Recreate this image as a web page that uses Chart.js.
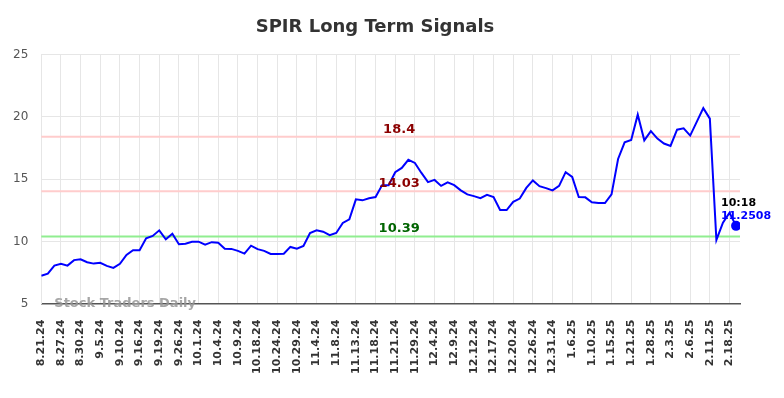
<!DOCTYPE html>
<html>
<head>
<meta charset="utf-8">
<script src="https://cdn.jsdelivr.net/npm/chart.js@4.4.1/dist/chart.umd.min.js"></script>
<style>
	html, body { margin: 0; padding: 0; background: #ffffff; }
	#wrap { width: 784px; height: 398px; }
</style>
</head>
<body>
<div id="wrap"><canvas id="chart" width="784" height="398"></canvas></div>
<script>
// ----------------------------------------------------------------------
const tick_labels = ["8.21.24","8.27.24","8.30.24","9.5.24","9.10.24","9.16.24",
	"9.19.24","9.26.24","10.1.24","10.4.24","10.9.24","10.18.24","10.24.24",
	"10.29.24","11.4.24","11.8.24","11.13.24","11.18.24","11.21.24","11.29.24",
	"12.4.24","12.9.24","12.12.24","12.17.24","12.20.24","12.26.24","12.31.24",
	"1.6.25","1.10.25","1.15.25","1.21.25","1.28.25","2.3.25","2.6.25",
	"2.11.25","2.18.25"]

const prices = [7.24,7.42,8.06,8.2,8.06,8.5,8.57,8.33,8.22,8.28,
	8.04,7.88,8.2,8.92,9.3,9.3,10.26,10.44,10.89,10.17,
	10.62,9.78,9.82,9.98,9.98,9.74,9.94,9.9,9.42,9.4,
	9.24,9.02,9.66,9.38,9.24,9.0,9.0,9.02,9.56,9.42,
	9.64,10.68,10.9,10.78,10.5,10.68,11.48,11.78,13.38,13.3,
	13.46,13.56,14.52,14.52,15.56,15.9,16.55,16.3,15.5,14.76,
	14.94,14.46,14.74,14.52,14.1,13.78,13.64,13.48,13.74,13.56,
	12.52,12.52,13.18,13.44,14.3,14.9,14.44,14.28,14.1,14.46,
	15.56,15.18,13.56,13.54,13.14,13.08,13.08,13.78,16.62,17.96,
	18.14,20.18,18.12,18.86,18.26,17.86,17.67,18.97,19.08,18.5,
	19.6,20.7,19.86,10.12,11.5,12.3,11.25]

const level_values = [18.4, 14.03, 10.39]
const level_texts = ["18.4", "14.03", "10.39"]
const last_time = "10:18"
const last_text = "11.2508"

const font_name = "'DejaVu Sans', sans-serif"

// ----------------------------------------------------------------------
function build_points(values)
{
	const points = []
	for (let it = 0; it < values.length; it++)
		{
		points.push({x: it, y: values[it]})
		}
	return points
}

// ----------------------------------------------------------------------
const signal_plugin = {
	id: 'signals',
	beforeDatasetsDraw (chart)
	{
		const ctx = chart.ctx
		const area = chart.chartArea
		const yy = chart.scales.y
		ctx.save()
		for (let it = 0; it < level_values.length; it++)
			{
			const py = yy.getPixelForValue(level_values[it])
			ctx.strokeStyle = (it == 2) ? '#90ee90' : '#ffcccc'
			ctx.lineWidth = 2
			ctx.beginPath()
			ctx.moveTo(area.left, py)
			ctx.lineTo(area.right, py)
			ctx.stroke()
			}
		ctx.restore()
	},
	afterDatasetsDraw (chart)
	{
		const ctx = chart.ctx
		const area = chart.chartArea
		const xx = chart.scales.x
		const yy = chart.scales.y
		ctx.save()
		ctx.font = "bold 13px " + font_name
		ctx.textAlign = 'center'
		ctx.textBaseline = 'bottom'
		const cx = xx.getPixelForValue(54.6)
		for (let it = 0; it < level_values.length; it++)
			{
			const py = yy.getPixelForValue(level_values[it])
			ctx.fillStyle = (it == 2) ? '#006400' : '#8b0000'
			ctx.fillText(level_texts[it], cx, py - 1)
			}

		const last = prices.length - 1
		const lx = xx.getPixelForValue(last)
		const ly = yy.getPixelForValue(prices[last])
		ctx.textAlign = 'left'
		ctx.textBaseline = 'middle'
		ctx.font = "bold 11px " + font_name
		ctx.fillStyle = '#000000'
		ctx.fillText(last_time, lx - 15, ly - 23)
		ctx.fillStyle = '#0000ff'
		ctx.fillText(last_text, lx - 15, ly - 10)

		ctx.font = "bold 13px " + font_name
		ctx.fillStyle = 'rgba(150,150,150,0.85)'
		ctx.fillText("Stock Traders Daily", area.left + 13, area.bottom)
		ctx.restore()
	}
}

// ----------------------------------------------------------------------
function draw_chart ()
{
	const last = prices.length - 1
	const config = {
		type: 'line',
		data: {
			datasets: [{
				data: build_points(prices),
				borderColor: '#0000ff',
				backgroundColor: '#0000ff',
				borderWidth: 2,
				lineTension: 0,
				pointRadius: (c) => (c.dataIndex == last) ? 4 : 0,
				pointHoverRadius: 0
				}]
			},
		options: {
			responsive: false,
			animation: false,
			layout: { padding: { left: 0, right: 34, top: 0, bottom: 8 } },
			plugins: {
				legend: { display: false },
				tooltip: { enabled: false },
				title: {
					display: true,
					text: 'SPIR Long Term Signals',
					color: '#333333',
					font: { family: font_name, size: 18, weight: 'bold' },
					padding: { top: 17, bottom: 16 }
					}
				},
			scales: {
				x: {
					type: 'linear',
					min: 0,
					max: 106.6,
					grid: { color: '#e6e6e6', drawTicks: false },
					border: { color: '#555555', width: 1.5 },
					ticks: {
						stepSize: 3,
						includeBounds: false,
						autoSkip: false,
						maxRotation: 90,
						minRotation: 90,
						padding: 16,
						color: '#333333',
						font: { family: font_name, size: 11, weight: 'bold' },
						callback: (value) => tick_labels[Math.round(value / 3)]
						}
					},
				y: {
					min: 5,
					max: 25,
					grid: { color: '#e6e6e6', drawTicks: false },
					border: { color: '#e6e6e6' },
					ticks: {
						stepSize: 5,
						padding: 13,
						color: '#555555',
						font: { family: font_name, size: 12 }
						}
					},
				y2: {
					position: 'right',
					min: 5,
					max: 25,
					grid: { display: false, drawTicks: false },
					border: { display: false },
					ticks: { display: false },
					afterFit: (scale) => { scale.width = 10 }
					}
				}
			},
		plugins: [signal_plugin]
		}

	const context = document.getElementById("chart")
	const chart = new Chart(context, config)
}

draw_chart ()
// ----------------------------------------------------------------------
</script>
</body>
</html>
